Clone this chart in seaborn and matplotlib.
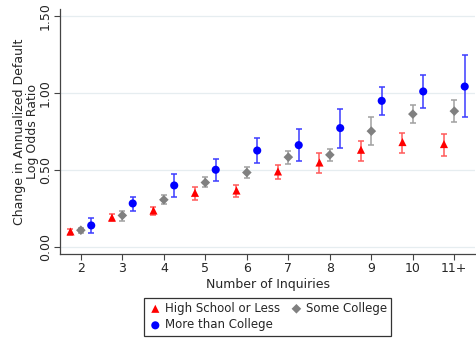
import numpy as np
import pandas as pd
import matplotlib
matplotlib.use("Agg")
import matplotlib.pyplot as plt
import seaborn as sns

# DATA
inquiries = ["2", "3", "4", "5", "6", "7", "8", "9", "10", "11+"]

hs_est = [0.10, 0.19, 0.236, 0.351, 0.366, 0.490, 0.548, 0.631, 0.681, 0.668]
hs_lo  = [0.076, 0.165, 0.208, 0.306, 0.323, 0.438, 0.477, 0.561, 0.611, 0.592]
hs_hi  = [0.119, 0.215, 0.262, 0.388, 0.405, 0.535, 0.609, 0.691, 0.743, 0.733]

sc_est = [0.108, 0.204, 0.306, 0.418, 0.483, 0.583, 0.598, 0.752, 0.863, 0.882]
sc_lo  = [0.089, 0.171, 0.278, 0.386, 0.447, 0.540, 0.557, 0.659, 0.804, 0.811]
sc_hi  = [0.125, 0.236, 0.334, 0.451, 0.522, 0.626, 0.637, 0.843, 0.919, 0.956]

mc_est = [0.139, 0.282, 0.399, 0.501, 0.626, 0.661, 0.772, 0.949, 1.010, 1.042]
mc_lo  = [0.093, 0.236, 0.327, 0.429, 0.548, 0.555, 0.644, 0.854, 0.902, 0.841]
mc_hi  = [0.187, 0.325, 0.473, 0.570, 0.707, 0.767, 0.899, 1.042, 1.116, 1.244]

groups = ["High School or Less", "Some College", "More than College"]
offsets = {"High School or Less": -0.25, "Some College": 0.0, "More than College": 0.25}
colors = {"High School or Less": "#ff0000", "Some College": "#808080", "More than College": "#0000ff"}
err_colors = {"High School or Less": "#ff5a5a", "Some College": "#a0a0a0", "More than College": "#3c3cff"}
markers = {"High School or Less": "^", "Some College": "D", "More than College": "o"}
sizes = {"High School or Less": 34, "Some College": 24, "More than College": 34}

rows = []
for g, est, lo, hi in [(groups[0], hs_est, hs_lo, hs_hi),
                       (groups[1], sc_est, sc_lo, sc_hi),
                       (groups[2], mc_est, mc_lo, mc_hi)]:
    for i, lab in enumerate(inquiries):
        rows.append({"group": g, "inq": lab, "pos": i + offsets[g],
                     "est": est[i], "lo": lo[i], "hi": hi[i]})
df = pd.DataFrame(rows)

sns.set_style("white")
plt.rcParams["font.family"] = ["DejaVu Sans"]

fig, ax = plt.subplots(figsize=(4.77, 3.39), dpi=100)
fig.subplots_adjust(left=0.126, right=0.996, top=0.973, bottom=0.251)

for y in [0, 0.5, 1.0, 1.5]:
    ax.axhline(y, color="#e6edf0", lw=0.9, zorder=0)

for g in groups:
    d = df[df["group"] == g]
    ax.errorbar(d["pos"], d["est"], yerr=[d["est"] - d["lo"], d["hi"] - d["est"]],
                fmt="none", ecolor=err_colors[g], elinewidth=1.1, capsize=2.5,
                capthick=1.1, zorder=2)

# plot order so legend reads HS, More than College | Some College (column-major)
for g in [groups[0], groups[2], groups[1]]:
    d = df[df["group"] == g]
    sns.scatterplot(data=d, x="pos", y="est", ax=ax, color=colors[g],
                    marker=markers[g], s=sizes[g], edgecolor="none",
                    label=g, zorder=3)

ax.set_xlim(-0.5, len(inquiries) - 0.5)
ax.set_ylim(-0.046, 1.545)
ax.set_xticks(range(len(inquiries)))
ax.set_xticklabels(inquiries, fontsize=9)
ax.set_yticks([0, 0.5, 1.0, 1.5])
ax.set_yticklabels(["0.00", "0.50", "1.00", "1.50"], fontsize=9, rotation=90, va="center")
ax.tick_params(axis="both", length=4, width=0.8, color="#444444", pad=2, left=True, bottom=True)
ax.set_xlabel("Number of Inquiries", fontsize=9, labelpad=2)
ax.set_ylabel("Change in Annualized Default\nLog Odds Ratio", fontsize=9, labelpad=0,
              linespacing=0.95)

for s in ["top", "right"]:
    ax.spines[s].set_visible(False)
for s in ["left", "bottom"]:
    ax.spines[s].set_color("#444444")
    ax.spines[s].set_linewidth(0.9)

leg = ax.legend(loc="upper center", bbox_to_anchor=(0.5, -0.155), ncol=2,
                fontsize=8.5, frameon=True, fancybox=False, edgecolor="black",
                handletextpad=0.2, columnspacing=0.8, borderpad=0.35,
                labelspacing=0.3, handlelength=1.2)
leg.get_frame().set_linewidth(0.9)

fig.savefig("out.png", dpi=100)
